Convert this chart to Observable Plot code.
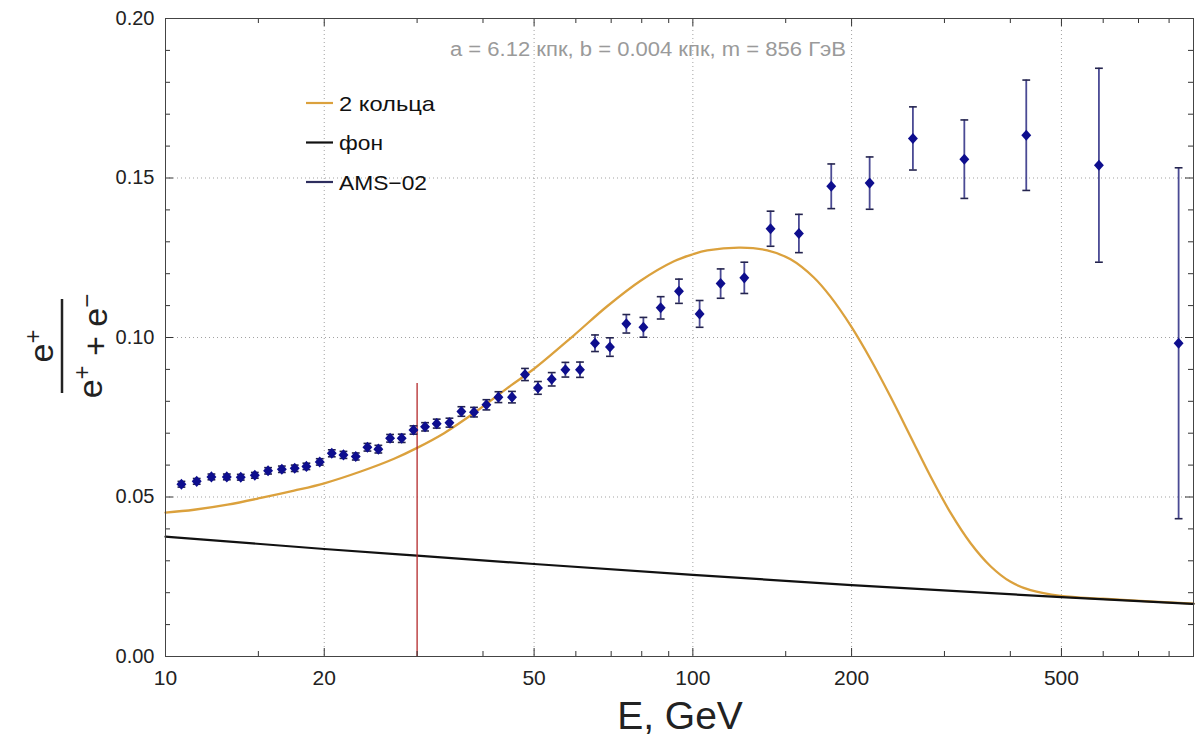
<!DOCTYPE html>
<html>
<head>
<meta charset="utf-8">
<script src="https://cdn.jsdelivr.net/npm/d3@7"></script>
<script src="https://cdn.jsdelivr.net/npm/@observablehq/plot@0.6"></script>
<style>
  body { margin: 0; background: #fff; }
  #chart svg { display: block; }
</style>
</head>
<body>
<div id="chart"></div>
<script>
// ---------- data ----------
// AMS-02 positron fraction points
const amsEnergy = [10.72, 11.46, 12.22, 13.07, 13.89, 14.77, 15.65, 16.62, 17.58, 18.50,
  19.61, 20.67, 21.75, 22.95, 24.15, 25.33, 26.66, 28.05, 29.53, 31.06,
  32.68, 34.55, 36.40, 38.46, 40.60, 42.79, 45.40, 48.05, 50.85, 54.00,
  57.32, 61.09, 65.23, 69.63, 74.80, 80.58, 86.90, 94.12, 103.0, 112.9,
  125.2, 140.4, 158.9, 183.0, 216.4, 261.4, 327.2, 428.8, 588.9, 834];
const amsFraction = [0.0540, 0.0549, 0.0563, 0.0563, 0.0562, 0.0568, 0.0582, 0.0587, 0.0590, 0.0596,
  0.0610, 0.0637, 0.0632, 0.0627, 0.0656, 0.0650, 0.0684, 0.0684, 0.0710, 0.0720,
  0.0730, 0.0733, 0.0768, 0.0766, 0.0789, 0.0813, 0.0813, 0.0884, 0.0842, 0.0869,
  0.0899, 0.0899, 0.0982, 0.0970, 0.1043, 0.1032, 0.1093, 0.1145, 0.1074, 0.1169,
  0.1187, 0.1341, 0.1326, 0.1474, 0.1484, 0.1624, 0.1559, 0.1634, 0.1540, 0.0982];
const amsError = [0.0009, 0.0009, 0.0009, 0.0009, 0.0009, 0.0009, 0.0010, 0.0010, 0.0010, 0.0010,
  0.0010, 0.0011, 0.0011, 0.0011, 0.0012, 0.0012, 0.0012, 0.0013, 0.0013, 0.0013,
  0.0014, 0.0014, 0.0015, 0.0015, 0.0016, 0.0017, 0.0018, 0.0019, 0.0020, 0.0021,
  0.0023, 0.0024, 0.0026, 0.0029, 0.0029, 0.0031, 0.0035, 0.0038, 0.0042, 0.0046,
  0.0049, 0.0055, 0.0060, 0.0070, 0.0082, 0.0099, 0.0123, 0.0173, 0.0304, 0.0550];

// "2 кольца" model curve
const ringEnergy = [10, 11.33, 13.11, 15.16, 17.53, 20, 23.45, 27.13, 30, 33.75, 39.05, 45.14, 50,
  59.5, 68.8, 79.6, 92.1, 100, 106.5, 123.2, 138.4, 153.2, 169.6, 182.4, 199.2, 217.4,
  237.1, 258.8, 282.4, 308.2, 336.3, 366.9, 400.5, 436.9, 498.2, 600, 750, 890];
const ringFraction = [0.0451, 0.0460, 0.0476, 0.0497, 0.0520, 0.0543, 0.0580, 0.0620, 0.0654, 0.0700, 0.0771, 0.0849, 0.0902,
  0.1007, 0.1098, 0.1178, 0.1239, 0.1261, 0.1273, 0.1282, 0.1273, 0.1245, 0.1188, 0.1128, 0.1037, 0.0931,
  0.0814, 0.0689, 0.0564, 0.0450, 0.0355, 0.0283, 0.0234, 0.0208, 0.0190, 0.0181, 0.0172, 0.0166];

// "фон" background curve
const bgEnergy = [10, 20, 30, 50, 100, 200, 500, 890];
const bgFraction = [0.0376, 0.0337, 0.0316, 0.0290, 0.0256, 0.0224, 0.0186, 0.0165];

// vertical marker
const markerEnergy = [30];
const markerTop = [0.0856];

// ticks
const xMajorTicks = [10, 20, 50, 100, 200, 500];
const xMinorTicks = [15, 30, 40, 60, 70, 80, 90, 150, 300, 400, 600, 700, 800];
const yMajorTicks = [0, 0.05, 0.10, 0.15, 0.20];
const yMinorTicks = [0.01, 0.02, 0.03, 0.04, 0.06, 0.07, 0.08, 0.09, 0.11, 0.12, 0.13, 0.14, 0.16, 0.17, 0.18, 0.19];

const legendLabels = ["2 кольца", "фон", "AMS−02"];
const annotation = "a = 6.12 кпк, b = 0.004 кпк, m = 856 ГэВ";

// ---------- tables ----------
const points = amsEnergy.map((E, i) => ({E, v: amsFraction[i], err: amsError[i]}));
const ring = ringEnergy.map((E, i) => ({E, v: ringFraction[i]}));
const bg = bgEnergy.map((E, i) => ({E, v: bgFraction[i]}));
const marker = markerEnergy.map((E, i) => ({E, top: markerTop[i]}));

// ---------- layout / style ----------
const W = 1196, H = 741, ML = 165, MR = 3, MT = 18, MB = 85;
const innerW = W - ML - MR, innerH = H - MT - MB;
const font = "'Liberation Sans', Arial, Helvetica, sans-serif";
const ringColor = "#dba13d";
const pointColor = "#0e0e8e";

const diamond = {draw(ctx, size) {
  const s = Math.sqrt(size), w = s * 0.70, h = s * 0.78;
  ctx.moveTo(0, -h); ctx.lineTo(w, 0); ctx.lineTo(0, h); ctx.lineTo(-w, 0); ctx.closePath();
}};
const cap = {draw(ctx, size) {
  const w = Math.sqrt(size) * 0.55;
  ctx.moveTo(-w, 0); ctx.lineTo(w, 0);
}};

const chart = Plot.plot({
  width: W, height: H,
  marginLeft: ML, marginRight: MR, marginTop: MT, marginBottom: MB,
  style: {fontFamily: font, fontSize: "20px", color: "#222", background: "#fff"},
  x: {type: "log", domain: [10, 890], ticks: xMajorTicks, tickFormat: d => String(d),
      tickSize: 0, tickPadding: 14, label: null},
  y: {domain: [0, 0.2], ticks: yMajorTicks, tickFormat: d => d.toFixed(2),
      tickSize: 0, tickPadding: 11, label: null},
  marks: [
    Plot.gridX(xMajorTicks, {stroke: "#8a8a8a", strokeOpacity: 0.8, strokeDasharray: "1,3"}),
    Plot.gridY(yMajorTicks, {stroke: "#8a8a8a", strokeOpacity: 0.8, strokeDasharray: "1,3"}),
    Plot.line(ring, {x: "E", y: "v", stroke: ringColor, strokeWidth: 2.3, curve: "catmull-rom"}),
    Plot.line(bg, {x: "E", y: "v", stroke: "#111", strokeWidth: 2.2, curve: "monotone-x"}),
    Plot.ruleX(marker, {x: "E", y1: 0, y2: "top", stroke: "#b3282a", strokeWidth: 1.3}),
    Plot.ruleX(points, {x: "E", y1: d => d.v - d.err, y2: d => d.v + d.err, stroke: "#4a4a94", strokeWidth: 1.8}),
    Plot.dot(points, {x: "E", y: d => d.v + d.err, symbol: cap, r: 4, fill: "none", stroke: "#24244e", strokeWidth: 1.6}),
    Plot.dot(points, {x: "E", y: d => d.v - d.err, symbol: cap, r: 4, fill: "none", stroke: "#24244e", strokeWidth: 1.6}),
    Plot.dot(points, {x: "E", y: "v", symbol: diamond, r: 4, fill: pointColor, stroke: "none"}),
    // frame ticks (inward)
    Plot.tickX(xMajorTicks, {x: d => d, insetTop: innerH - 8, stroke: "#333"}),
    Plot.tickX(xMinorTicks, {x: d => d, insetTop: innerH - 5, stroke: "#333"}),
    Plot.tickX(xMajorTicks, {x: d => d, insetBottom: innerH - 8, stroke: "#333"}),
    Plot.tickX(xMinorTicks, {x: d => d, insetBottom: innerH - 5, stroke: "#333"}),
    Plot.tickY(yMajorTicks, {y: d => d, insetRight: innerW - 8, stroke: "#333"}),
    Plot.tickY(yMinorTicks, {y: d => d, insetRight: innerW - 5, stroke: "#333"}),
    Plot.tickY(yMajorTicks, {y: d => d, insetLeft: innerW - 8, stroke: "#333"}),
    Plot.tickY(yMinorTicks, {y: d => d, insetLeft: innerW - 5, stroke: "#333"}),
    Plot.frame({stroke: "#444"})
  ]
});

document.getElementById("chart").appendChild(chart);

// ---------- text annotations, legend, axis labels ----------
const svg = d3.select(chart);
svg.selectAll("g[aria-label='x-axis tick label'] text").style("font-size", "21px");

svg.append("text")
  .attr("x", 648).attr("y", 56)
  .attr("text-anchor", "middle")
  .attr("fill", "#9a9a9a")
  .style("font-family", font).style("font-size", "19.5px")
  .attr("textLength", 396).attr("lengthAdjust", "spacingAndGlyphs")
  .text(annotation);

const legendColors = [ringColor, "#111", "#2e2e5e"];
const legendWidths = [96, 44, 88];
const legend = svg.append("g").style("font-family", font).style("font-size", "21px");
legendLabels.forEach((lab, i) => {
  const cy = 103 + i * 39.5;
  legend.append("line").attr("x1", 306).attr("x2", 333).attr("y1", cy).attr("y2", cy)
    .attr("stroke", legendColors[i]).attr("stroke-width", 2.2);
  legend.append("text").attr("x", 339).attr("y", cy + 7.5)
    .attr("text-anchor", "start").attr("fill", "#111")
    .attr("textLength", legendWidths[i]).attr("lengthAdjust", "spacingAndGlyphs")
    .text(lab);
});

svg.append("text")
  .attr("x", 680).attr("y", 729)
  .attr("text-anchor", "middle")
  .attr("fill", "#222")
  .style("font-family", font).style("font-size", "39px")
  .text("E, GeV");

// y label: e+ / (e+ + e-)
const yl = svg.append("g")
  .attr("transform", "translate(62,346) rotate(-90)")
  .style("font-family", font).style("font-size", "34px").attr("fill", "#222");
const num = yl.append("text").attr("x", 0).attr("y", -9).attr("text-anchor", "middle");
num.append("tspan").text("e");
num.append("tspan").attr("dy", "-0.5em").style("font-size", "24px").text("+");
yl.append("line").attr("x1", -47).attr("x2", 47).attr("y1", 0).attr("y2", 0)
  .attr("stroke", "#222").attr("stroke-width", 2.5);
const den = yl.append("text").attr("x", 0).attr("y", 40).attr("text-anchor", "middle");
den.append("tspan").text("e");
den.append("tspan").attr("dy", "-0.5em").style("font-size", "24px").text("+");
den.append("tspan").attr("dy", "0.5em").text(" + e");
den.append("tspan").attr("dy", "-0.5em").style("font-size", "24px").text("−");
</script>
</body>
</html>
